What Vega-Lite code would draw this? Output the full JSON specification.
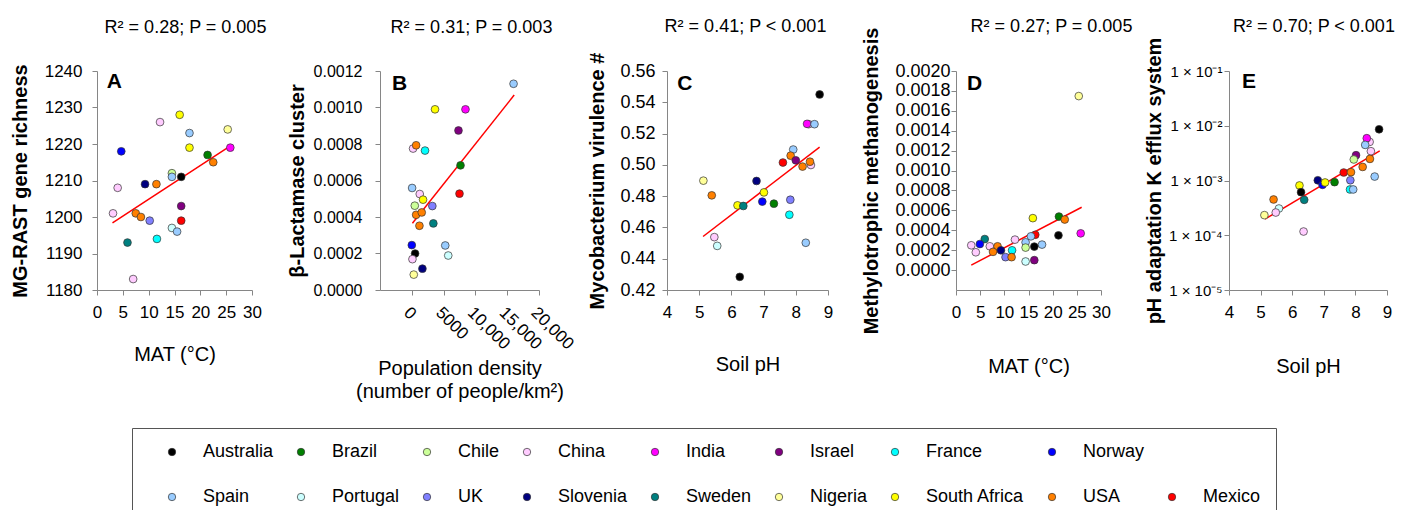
{
  "$schema": "https://vega.github.io/schema/vega-lite/v6.json",
  "background": "white",
  "padding": {"left": 10, "top": 18, "right": 5, "bottom": 5},
  "bounds": "flush",
  "spacing": 128,
  "config": {
    "font": "Liberation Sans",
    "view": {"stroke": null},
    "axis": {"domainColor": "#868686", "tickColor": "#868686", "tickSize": 5, "grid": false, "labelFontSize": 17, "labelColor": "#000000", "titleColor": "#000000", "titleLimit": 1000, "labelFlush": false, "labelOverlap": false, "labelBound": false},
    "axisX": {"titleFontSize": 20, "titleFontWeight": "normal"},
    "axisY": {"titleFontSize": 20, "titleFontWeight": "bold"},
    "title": {"fontSize": 18, "fontWeight": "normal", "color": "#000000", "baseline": "alphabetic", "offset": 40, "anchor": "middle"}
  },
  "datasets": {
    "A": [
      {"country": "China", "x": 3.1, "y": 1201},
      {"country": "China", "x": 4.0, "y": 1208},
      {"country": "Norway", "x": 4.7, "y": 1218},
      {"country": "Sweden", "x": 5.9, "y": 1193},
      {"country": "China", "x": 7.0, "y": 1183},
      {"country": "USA", "x": 7.5, "y": 1201},
      {"country": "USA", "x": 8.5, "y": 1200},
      {"country": "Slovenia", "x": 9.3, "y": 1209},
      {"country": "UK", "x": 10.2, "y": 1199},
      {"country": "USA", "x": 11.5, "y": 1209},
      {"country": "France", "x": 11.6, "y": 1194},
      {"country": "China", "x": 12.2, "y": 1226},
      {"country": "Chile", "x": 14.5, "y": 1212},
      {"country": "Spain", "x": 14.5, "y": 1211},
      {"country": "Portugal", "x": 14.5, "y": 1197},
      {"country": "Spain", "x": 15.5, "y": 1196},
      {"country": "South Africa", "x": 16.0, "y": 1228},
      {"country": "Australia", "x": 16.3, "y": 1211},
      {"country": "Israel", "x": 16.3, "y": 1203},
      {"country": "Mexico", "x": 16.3, "y": 1199},
      {"country": "Spain", "x": 17.9, "y": 1223},
      {"country": "South Africa", "x": 17.9, "y": 1219},
      {"country": "Brazil", "x": 21.4, "y": 1217},
      {"country": "USA", "x": 22.5, "y": 1215},
      {"country": "Nigeria", "x": 25.3, "y": 1224},
      {"country": "India", "x": 25.8, "y": 1219}
    ],
    "lineA": [{"x": 3.0, "y": 1198.4}, {"x": 25.6, "y": 1219.3}],
    "B": [
      {"country": "Spain", "x": 16000, "y": 0.00113},
      {"country": "South Africa", "x": 3650, "y": 0.00099},
      {"country": "India", "x": 8440, "y": 0.00099},
      {"country": "Israel", "x": 7340, "y": 0.000874},
      {"country": "China", "x": 200, "y": 0.000775},
      {"country": "USA", "x": 680, "y": 0.000793},
      {"country": "France", "x": 2080, "y": 0.000764},
      {"country": "Brazil", "x": 7660, "y": 0.000683},
      {"country": "Spain", "x": 50, "y": 0.000559},
      {"country": "Mexico", "x": 7500, "y": 0.000528},
      {"country": "China", "x": 1250, "y": 0.000526},
      {"country": "South Africa", "x": 1770, "y": 0.000495},
      {"country": "Chile", "x": 470, "y": 0.000462},
      {"country": "UK", "x": 3230, "y": 0.00046},
      {"country": "USA", "x": 680, "y": 0.000412},
      {"country": "USA", "x": 1560, "y": 0.000425},
      {"country": "Sweden", "x": 3390, "y": 0.000365},
      {"country": "USA", "x": 1200, "y": 0.000352},
      {"country": "Norway", "x": 0, "y": 0.000246},
      {"country": "Spain", "x": 5260, "y": 0.000244},
      {"country": "Australia", "x": 520, "y": 0.0002},
      {"country": "Portugal", "x": 5730, "y": 0.000189},
      {"country": "China", "x": 100, "y": 0.000169},
      {"country": "Slovenia", "x": 1670, "y": 0.000117},
      {"country": "Nigeria", "x": 310, "y": 0.0000843}
    ],
    "lineB": [{"x": 100, "y": 0.000366}, {"x": 16100, "y": 0.001068}],
    "C": [
      {"country": "Australia", "x": 8.74, "y": 0.545},
      {"country": "China", "x": 8.4, "y": 0.526},
      {"country": "India", "x": 8.35, "y": 0.5262},
      {"country": "Spain", "x": 8.58, "y": 0.526},
      {"country": "Spain", "x": 7.92, "y": 0.5098},
      {"country": "USA", "x": 7.84, "y": 0.5059},
      {"country": "Israel", "x": 8.0, "y": 0.5029},
      {"country": "Mexico", "x": 7.6, "y": 0.5015},
      {"country": "USA", "x": 8.21, "y": 0.4989},
      {"country": "China", "x": 8.47, "y": 0.4999},
      {"country": "USA", "x": 8.44, "y": 0.502},
      {"country": "Nigeria", "x": 5.13, "y": 0.4899},
      {"country": "Slovenia", "x": 6.78, "y": 0.4897},
      {"country": "South Africa", "x": 7.01, "y": 0.4824},
      {"country": "USA", "x": 5.39, "y": 0.4805},
      {"country": "Norway", "x": 6.96, "y": 0.4765},
      {"country": "UK", "x": 7.83, "y": 0.4777},
      {"country": "Brazil", "x": 7.32, "y": 0.4752},
      {"country": "South Africa", "x": 6.19, "y": 0.4741},
      {"country": "Sweden", "x": 6.37, "y": 0.4737},
      {"country": "France", "x": 7.8, "y": 0.4681},
      {"country": "China", "x": 5.47, "y": 0.4538},
      {"country": "Portugal", "x": 5.56, "y": 0.4482},
      {"country": "Spain", "x": 8.31, "y": 0.4502},
      {"country": "Australia", "x": 6.26, "y": 0.4284}
    ],
    "lineC": [{"x": 5.12, "y": 0.4542}, {"x": 8.74, "y": 0.5113}],
    "D": [
      {"country": "Nigeria", "x": 25.4, "y": 0.001748},
      {"country": "South Africa", "x": 15.9, "y": 0.000522},
      {"country": "Brazil", "x": 21.3, "y": 0.000538},
      {"country": "USA", "x": 22.5, "y": 0.000508},
      {"country": "India", "x": 25.8, "y": 0.000369},
      {"country": "Australia", "x": 21.2, "y": 0.000349},
      {"country": "Mexico", "x": 16.4, "y": 0.000355},
      {"country": "Spain", "x": 15.5, "y": 0.000339},
      {"country": "China", "x": 12.2, "y": 0.000306},
      {"country": "Sweden", "x": 5.95, "y": 0.000312},
      {"country": "Spain", "x": 14.4, "y": 0.000279},
      {"country": "Norway", "x": 4.94, "y": 0.000262},
      {"country": "China", "x": 3.16, "y": 0.000249},
      {"country": "China", "x": 7.0, "y": 0.000239},
      {"country": "USA", "x": 8.6, "y": 0.000239},
      {"country": "Spain", "x": 17.8, "y": 0.000256},
      {"country": "Australia", "x": 16.2, "y": 0.000236},
      {"country": "Chile", "x": 14.4, "y": 0.000226},
      {"country": "Slovenia", "x": 9.3, "y": 0.000199},
      {"country": "France", "x": 11.6, "y": 0.000199},
      {"country": "USA", "x": 7.66, "y": 0.000183},
      {"country": "China", "x": 4.1, "y": 0.000179},
      {"country": "UK", "x": 10.25, "y": 0.00013},
      {"country": "USA", "x": 11.5, "y": 0.00013},
      {"country": "Israel", "x": 16.2, "y": 0.0001},
      {"country": "Portugal", "x": 14.4, "y": 0.0000864}
    ],
    "lineD": [{"x": 3.16, "y": 0.00005}, {"x": 26.0, "y": 0.000631}],
    "E": [
      {"country": "Australia", "x": 8.75, "y": 0.00863},
      {"country": "China", "x": 8.45, "y": 0.00507},
      {"country": "India", "x": 8.36, "y": 0.00592},
      {"country": "Spain", "x": 8.31, "y": 0.00447},
      {"country": "China", "x": 8.49, "y": 0.00343},
      {"country": "Israel", "x": 8.02, "y": 0.0029},
      {"country": "Chile", "x": 7.95, "y": 0.00242},
      {"country": "USA", "x": 8.46, "y": 0.00248},
      {"country": "USA", "x": 8.23, "y": 0.00177},
      {"country": "Mexico", "x": 7.63, "y": 0.0014},
      {"country": "USA", "x": 7.86, "y": 0.00142},
      {"country": "Spain", "x": 8.61, "y": 0.00118},
      {"country": "UK", "x": 7.84, "y": 0.00101},
      {"country": "Slovenia", "x": 6.81, "y": 0.00101},
      {"country": "Norway", "x": 6.96, "y": 0.000834},
      {"country": "South Africa", "x": 7.04, "y": 0.00092},
      {"country": "Brazil", "x": 7.34, "y": 0.000933},
      {"country": "France", "x": 7.83, "y": 0.000686},
      {"country": "Spain", "x": 7.93, "y": 0.000686},
      {"country": "South Africa", "x": 6.23, "y": 0.000811},
      {"country": "Australia", "x": 6.28, "y": 0.000612},
      {"country": "USA", "x": 5.41, "y": 0.00045},
      {"country": "Sweden", "x": 6.38, "y": 0.000443},
      {"country": "Portugal", "x": 5.58, "y": 0.000308},
      {"country": "China", "x": 5.48, "y": 0.00026},
      {"country": "Nigeria", "x": 5.12, "y": 0.000233},
      {"country": "China", "x": 6.36, "y": 0.000117}
    ],
    "lineE": [{"x": 5.14, "y": 0.000197}, {"x": 8.77, "y": 0.00348}]
  },
  "hconcat": [
    {
      "width": 155, "height": 219,
      "title": {"text": "R² = 0.28; P = 0.005", "dx": 11, "dy": 15},
      "layer": [
        {"data": {"name": "lineA"}, "mark": {"type": "line", "color": "#FF0000", "strokeWidth": 1.5},
         "encoding": {
           "x": {"field": "x", "type": "quantitative", "scale": {"domain": [0, 30], "nice": false, "zero": false}, "axis": {"title": "MAT (°C)", "values": [0, 5, 10, 15, 20, 25, 30], "format": "d", "labelPadding": 9, "titlePadding": 24}},
           "y": {"field": "y", "type": "quantitative", "scale": {"domain": [1180, 1240], "nice": false, "zero": false}, "axis": {"title": "MG-RAST gene richness", "values": [1180, 1190, 1200, 1210, 1220, 1230, 1240], "format": "d", "labelPadding": 10, "titlePadding": 14}}}},
        {"data": {"name": "A"}, "mark": {"type": "circle", "size": 60, "opacity": 1, "stroke": "#333333", "strokeWidth": 0.7},
         "encoding": {
           "x": {"field": "x", "type": "quantitative", "scale": {"domain": [0, 30], "nice": false, "zero": false}, "axis": {"title": "MAT (°C)", "values": [0, 5, 10, 15, 20, 25, 30], "format": "d", "labelPadding": 9, "titlePadding": 24}},
           "y": {"field": "y", "type": "quantitative", "scale": {"domain": [1180, 1240], "nice": false, "zero": false}, "axis": {"title": "MG-RAST gene richness", "values": [1180, 1190, 1200, 1210, 1220, 1230, 1240], "format": "d", "labelPadding": 10, "titlePadding": 14}},
           "color": {"field": "country", "type": "nominal",
           "scale": {"domain": ["Australia", "Brazil", "Chile", "China", "India", "Israel", "France", "Norway", "\u00a0\u00a0\u00a0\u00a0\u00a0\u00a0\u00a0\u00a0\u00a0\u00a0\u00a0\u00a0\u00a0\u00a0\u00a0\u00a0", "Spain", "Portugal", "UK", "Slovenia", "Sweden", "Nigeria", "South Africa", "USA", "Mexico"],
                     "range": ["#000000", "#008000", "#CCFF99", "#FFCCFF", "#FF00FF", "#800080", "#00FFFF", "#0000FF", "transparent", "#99CCFF", "#CCFFFF", "#8080FF", "#000080", "#008080", "#FFFF99", "#FFFF00", "#FF8000", "#FF0000"]},
           "legend": {"title": null, "orient": "none", "legendX": 35, "legendY": 357, "direction": "horizontal", "columns": 9, "gridAlign": "each",
             "symbolType": "circle", "symbolSize": 55, "symbolStrokeWidth": 0.7, "symbolStrokeColor": "#333333", "symbolOffset": 16, "symbolOpacity": 1,
             "labelOffset": 22, "labelFontSize": 18, "labelColor": "#000000", "labelLimit": 300,
             "columnPadding": 2, "rowPadding": 27, "padding": 15, "strokeColor": "#555555",
             "encode": {"symbols": {"update": {"opacity": {"signal": "trim(datum.value + '') == '' ? 0 : 1"}}}}}}}},
        {"data": {"values": [{"label": "A"}]}, "mark": {"type": "text", "fontSize": 21, "fontWeight": "bold", "align": "left", "baseline": "middle", "color": "#000000"},
         "encoding": {
           "x": {"datum": 1.9, "type": "quantitative", "scale": {"domain": [0, 30], "nice": false, "zero": false}, "axis": {"title": "MAT (°C)", "values": [0, 5, 10, 15, 20, 25, 30], "format": "d", "labelPadding": 9, "titlePadding": 24}},
           "y": {"datum": 1237, "type": "quantitative", "scale": {"domain": [1180, 1240], "nice": false, "zero": false}, "axis": {"title": "MG-RAST gene richness", "values": [1180, 1190, 1200, 1210, 1220, 1230, 1240], "format": "d", "labelPadding": 10, "titlePadding": 14}},
           "text": {"field": "label"}}}
      ]
    },
    {
      "width": 159, "height": 219,
      "title": {"text": "R² = 0.31; P = 0.003", "dx": 12, "dy": 14},
      "layer": [
        {"data": {"name": "lineB"}, "mark": {"type": "line", "color": "#FF0000", "strokeWidth": 1.5},
         "encoding": {
           "x": {"field": "x", "type": "quantitative", "scale": {"domain": [-5000, 20000], "nice": false, "zero": false}, "axis": {"title": ["Population density", "(number of people/km²)"], "titleLineHeight": 23, "values": [0, 5000, 10000, 15000, 20000], "labelExpr": "datum.value < 10000 ? format(datum.value, 'd') : format(datum.value, ',')", "labelAngle": 45, "labelAlign": "left", "labelBaseline": "top", "labelPadding": 9, "titlePadding": 6}},
           "y": {"field": "y", "type": "quantitative", "scale": {"domain": [0, 0.0012], "nice": false, "zero": false}, "axis": {"title": "β-Lactamase cluster", "values": [0, 0.0002, 0.0004, 0.0006, 0.0008, 0.001, 0.0012], "format": ".4f", "labelFontSize": 16, "labelPadding": 13, "titlePadding": 6}}}},
        {"data": {"name": "B"}, "mark": {"type": "circle", "size": 60, "opacity": 1, "stroke": "#333333", "strokeWidth": 0.7},
         "encoding": {
           "x": {"field": "x", "type": "quantitative", "scale": {"domain": [-5000, 20000], "nice": false, "zero": false}, "axis": {"title": ["Population density", "(number of people/km²)"], "titleLineHeight": 23, "values": [0, 5000, 10000, 15000, 20000], "labelExpr": "datum.value < 10000 ? format(datum.value, 'd') : format(datum.value, ',')", "labelAngle": 45, "labelAlign": "left", "labelBaseline": "top", "labelPadding": 9, "titlePadding": 6}},
           "y": {"field": "y", "type": "quantitative", "scale": {"domain": [0, 0.0012], "nice": false, "zero": false}, "axis": {"title": "β-Lactamase cluster", "values": [0, 0.0002, 0.0004, 0.0006, 0.0008, 0.001, 0.0012], "format": ".4f", "labelFontSize": 16, "labelPadding": 13, "titlePadding": 6}},
           "color": {"field": "country", "type": "nominal",
           "scale": {"domain": ["Australia", "Brazil", "Chile", "China", "India", "Israel", "France", "Norway", "\u00a0\u00a0\u00a0\u00a0\u00a0\u00a0\u00a0\u00a0\u00a0\u00a0\u00a0\u00a0\u00a0\u00a0\u00a0\u00a0", "Spain", "Portugal", "UK", "Slovenia", "Sweden", "Nigeria", "South Africa", "USA", "Mexico"],
                     "range": ["#000000", "#008000", "#CCFF99", "#FFCCFF", "#FF00FF", "#800080", "#00FFFF", "#0000FF", "transparent", "#99CCFF", "#CCFFFF", "#8080FF", "#000080", "#008080", "#FFFF99", "#FFFF00", "#FF8000", "#FF0000"]}}}},
        {"data": {"values": [{"label": "B"}]}, "mark": {"type": "text", "fontSize": 21, "fontWeight": "bold", "align": "left", "baseline": "middle", "color": "#000000"},
         "encoding": {
           "x": {"datum": -3100, "type": "quantitative", "scale": {"domain": [-5000, 20000], "nice": false, "zero": false}, "axis": {"title": ["Population density", "(number of people/km²)"], "titleLineHeight": 23, "values": [0, 5000, 10000, 15000, 20000], "labelExpr": "datum.value < 10000 ? format(datum.value, 'd') : format(datum.value, ',')", "labelAngle": 45, "labelAlign": "left", "labelBaseline": "top", "labelPadding": 9, "titlePadding": 6}},
           "y": {"datum": 0.00113, "type": "quantitative", "scale": {"domain": [0, 0.0012], "nice": false, "zero": false}, "axis": {"title": "β-Lactamase cluster", "values": [0, 0.0002, 0.0004, 0.0006, 0.0008, 0.001, 0.0012], "format": ".4f", "labelFontSize": 16, "labelPadding": 13, "titlePadding": 6}},
           "text": {"field": "label"}}}
      ]
    },
    {
      "width": 161, "height": 219,
      "title": {"text": "R² = 0.41; P < 0.001", "dx": -2, "dy": 24},
      "layer": [
        {"data": {"name": "lineC"}, "mark": {"type": "line", "color": "#FF0000", "strokeWidth": 1.5},
         "encoding": {
           "x": {"field": "x", "type": "quantitative", "scale": {"domain": [4, 9], "nice": false, "zero": false}, "axis": {"title": "Soil pH", "values": [4, 5, 6, 7, 8, 9], "format": "d", "labelPadding": 9, "titlePadding": 34}},
           "y": {"field": "y", "type": "quantitative", "scale": {"domain": [0.42, 0.56], "nice": false, "zero": false}, "axis": {"title": "Mycobacterium virulence #", "values": [0.42, 0.44, 0.46, 0.48, 0.5, 0.52, 0.54, 0.56], "format": ".2f", "labelFontSize": 18, "labelPadding": 7, "titlePadding": 12}}}},
        {"data": {"name": "C"}, "mark": {"type": "circle", "size": 60, "opacity": 1, "stroke": "#333333", "strokeWidth": 0.7},
         "encoding": {
           "x": {"field": "x", "type": "quantitative", "scale": {"domain": [4, 9], "nice": false, "zero": false}, "axis": {"title": "Soil pH", "values": [4, 5, 6, 7, 8, 9], "format": "d", "labelPadding": 9, "titlePadding": 34}},
           "y": {"field": "y", "type": "quantitative", "scale": {"domain": [0.42, 0.56], "nice": false, "zero": false}, "axis": {"title": "Mycobacterium virulence #", "values": [0.42, 0.44, 0.46, 0.48, 0.5, 0.52, 0.54, 0.56], "format": ".2f", "labelFontSize": 18, "labelPadding": 7, "titlePadding": 12}},
           "color": {"field": "country", "type": "nominal",
           "scale": {"domain": ["Australia", "Brazil", "Chile", "China", "India", "Israel", "France", "Norway", "\u00a0\u00a0\u00a0\u00a0\u00a0\u00a0\u00a0\u00a0\u00a0\u00a0\u00a0\u00a0\u00a0\u00a0\u00a0\u00a0", "Spain", "Portugal", "UK", "Slovenia", "Sweden", "Nigeria", "South Africa", "USA", "Mexico"],
                     "range": ["#000000", "#008000", "#CCFF99", "#FFCCFF", "#FF00FF", "#800080", "#00FFFF", "#0000FF", "transparent", "#99CCFF", "#CCFFFF", "#8080FF", "#000080", "#008080", "#FFFF99", "#FFFF00", "#FF8000", "#FF0000"]}}}},
        {"data": {"values": [{"label": "C"}]}, "mark": {"type": "text", "fontSize": 21, "fontWeight": "bold", "align": "left", "baseline": "middle", "color": "#000000"},
         "encoding": {
           "x": {"datum": 4.32, "type": "quantitative", "scale": {"domain": [4, 9], "nice": false, "zero": false}, "axis": {"title": "Soil pH", "values": [4, 5, 6, 7, 8, 9], "format": "d", "labelPadding": 9, "titlePadding": 34}},
           "y": {"datum": 0.5517, "type": "quantitative", "scale": {"domain": [0.42, 0.56], "nice": false, "zero": false}, "axis": {"title": "Mycobacterium virulence #", "values": [0.42, 0.44, 0.46, 0.48, 0.5, 0.52, 0.54, 0.56], "format": ".2f", "labelFontSize": 18, "labelPadding": 7, "titlePadding": 12}},
           "text": {"field": "label"}}}
      ]
    },
    {
      "width": 145, "height": 219,
      "title": {"text": "R² = 0.27; P = 0.005", "dx": 23, "dy": 49},
      "layer": [
        {"data": {"name": "lineD"}, "mark": {"type": "line", "color": "#FF0000", "strokeWidth": 1.5},
         "encoding": {
           "x": {"field": "x", "type": "quantitative", "scale": {"domain": [0, 30], "nice": false, "zero": false}, "axis": {"title": "MAT (°C)", "values": [0, 5, 10, 15, 20, 25, 30], "format": "d", "labelPadding": 9, "titlePadding": 36}},
           "y": {"field": "y", "type": "quantitative", "scale": {"domain": [-0.0002, 0.002], "nice": false, "zero": false}, "axis": {"title": "Methylotrophic methanogenesis", "values": [0, 0.0002, 0.0004, 0.0006, 0.0008, 0.001, 0.0012, 0.0014, 0.0016, 0.0018, 0.002], "format": ".4f", "labelFontSize": 18, "labelPadding": 1, "titlePadding": 13}}}},
        {"data": {"name": "D"}, "mark": {"type": "circle", "size": 60, "opacity": 1, "stroke": "#333333", "strokeWidth": 0.7},
         "encoding": {
           "x": {"field": "x", "type": "quantitative", "scale": {"domain": [0, 30], "nice": false, "zero": false}, "axis": {"title": "MAT (°C)", "values": [0, 5, 10, 15, 20, 25, 30], "format": "d", "labelPadding": 9, "titlePadding": 36}},
           "y": {"field": "y", "type": "quantitative", "scale": {"domain": [-0.0002, 0.002], "nice": false, "zero": false}, "axis": {"title": "Methylotrophic methanogenesis", "values": [0, 0.0002, 0.0004, 0.0006, 0.0008, 0.001, 0.0012, 0.0014, 0.0016, 0.0018, 0.002], "format": ".4f", "labelFontSize": 18, "labelPadding": 1, "titlePadding": 13}},
           "color": {"field": "country", "type": "nominal",
           "scale": {"domain": ["Australia", "Brazil", "Chile", "China", "India", "Israel", "France", "Norway", "\u00a0\u00a0\u00a0\u00a0\u00a0\u00a0\u00a0\u00a0\u00a0\u00a0\u00a0\u00a0\u00a0\u00a0\u00a0\u00a0", "Spain", "Portugal", "UK", "Slovenia", "Sweden", "Nigeria", "South Africa", "USA", "Mexico"],
                     "range": ["#000000", "#008000", "#CCFF99", "#FFCCFF", "#FF00FF", "#800080", "#00FFFF", "#0000FF", "transparent", "#99CCFF", "#CCFFFF", "#8080FF", "#000080", "#008080", "#FFFF99", "#FFFF00", "#FF8000", "#FF0000"]}}}},
        {"data": {"values": [{"label": "D"}]}, "mark": {"type": "text", "fontSize": 21, "fontWeight": "bold", "align": "left", "baseline": "middle", "color": "#000000"},
         "encoding": {
           "x": {"datum": 2.28, "type": "quantitative", "scale": {"domain": [0, 30], "nice": false, "zero": false}, "axis": {"title": "MAT (°C)", "values": [0, 5, 10, 15, 20, 25, 30], "format": "d", "labelPadding": 9, "titlePadding": 36}},
           "y": {"datum": 0.00187, "type": "quantitative", "scale": {"domain": [-0.0002, 0.002], "nice": false, "zero": false}, "axis": {"title": "Methylotrophic methanogenesis", "values": [0, 0.0002, 0.0004, 0.0006, 0.0008, 0.001, 0.0012, 0.0014, 0.0016, 0.0018, 0.002], "format": ".4f", "labelFontSize": 18, "labelPadding": 1, "titlePadding": 13}},
           "text": {"field": "label"}}}
      ]
    },
    {
      "width": 158, "height": 219,
      "title": {"text": "R² = 0.70; P < 0.001", "dx": 6, "dy": 39},
      "layer": [
        {"data": {"name": "lineE"}, "mark": {"type": "line", "color": "#FF0000", "strokeWidth": 1.5},
         "encoding": {
           "x": {"field": "x", "type": "quantitative", "scale": {"domain": [4, 9], "nice": false, "zero": false}, "axis": {"title": "Soil pH", "values": [4, 5, 6, 7, 8, 9], "format": "d", "labelPadding": 9, "titlePadding": 36}},
           "y": {"field": "y", "type": "quantitative", "scale": {"type": "log", "domain": [0.00001, 0.1], "nice": false}, "axis": {"title": "pH adaptation K efflux system", "values": [0.00001, 0.0001, 0.001, 0.01, 0.1], "labelExpr": "'1 × 10' + (datum.value > 0.05 ? '⁻¹' : datum.value > 0.005 ? '⁻²' : datum.value > 0.0005 ? '⁻³' : datum.value > 0.00005 ? '⁻⁴' : '⁻⁵')", "labelFontSize": 15, "labelPadding": 2, "titlePadding": 4}}}},
        {"data": {"name": "E"}, "mark": {"type": "circle", "size": 60, "opacity": 1, "stroke": "#333333", "strokeWidth": 0.7},
         "encoding": {
           "x": {"field": "x", "type": "quantitative", "scale": {"domain": [4, 9], "nice": false, "zero": false}, "axis": {"title": "Soil pH", "values": [4, 5, 6, 7, 8, 9], "format": "d", "labelPadding": 9, "titlePadding": 36}},
           "y": {"field": "y", "type": "quantitative", "scale": {"type": "log", "domain": [0.00001, 0.1], "nice": false}, "axis": {"title": "pH adaptation K efflux system", "values": [0.00001, 0.0001, 0.001, 0.01, 0.1], "labelExpr": "'1 × 10' + (datum.value > 0.05 ? '⁻¹' : datum.value > 0.005 ? '⁻²' : datum.value > 0.0005 ? '⁻³' : datum.value > 0.00005 ? '⁻⁴' : '⁻⁵')", "labelFontSize": 15, "labelPadding": 2, "titlePadding": 4}},
           "color": {"field": "country", "type": "nominal",
           "scale": {"domain": ["Australia", "Brazil", "Chile", "China", "India", "Israel", "France", "Norway", "\u00a0\u00a0\u00a0\u00a0\u00a0\u00a0\u00a0\u00a0\u00a0\u00a0\u00a0\u00a0\u00a0\u00a0\u00a0\u00a0", "Spain", "Portugal", "UK", "Slovenia", "Sweden", "Nigeria", "South Africa", "USA", "Mexico"],
                     "range": ["#000000", "#008000", "#CCFF99", "#FFCCFF", "#FF00FF", "#800080", "#00FFFF", "#0000FF", "transparent", "#99CCFF", "#CCFFFF", "#8080FF", "#000080", "#008080", "#FFFF99", "#FFFF00", "#FF8000", "#FF0000"]}}}},
        {"data": {"values": [{"label": "E"}]}, "mark": {"type": "text", "fontSize": 21, "fontWeight": "bold", "align": "left", "baseline": "middle", "color": "#000000"},
         "encoding": {
           "x": {"datum": 4.41, "type": "quantitative", "scale": {"domain": [4, 9], "nice": false, "zero": false}, "axis": {"title": "Soil pH", "values": [4, 5, 6, 7, 8, 9], "format": "d", "labelPadding": 9, "titlePadding": 36}},
           "y": {"datum": 0.063, "type": "quantitative", "scale": {"type": "log", "domain": [0.00001, 0.1], "nice": false}, "axis": {"title": "pH adaptation K efflux system", "values": [0.00001, 0.0001, 0.001, 0.01, 0.1], "labelExpr": "'1 × 10' + (datum.value > 0.05 ? '⁻¹' : datum.value > 0.005 ? '⁻²' : datum.value > 0.0005 ? '⁻³' : datum.value > 0.00005 ? '⁻⁴' : '⁻⁵')", "labelFontSize": 15, "labelPadding": 2, "titlePadding": 4}},
           "text": {"field": "label"}}}
      ]
    }
  ]
}
